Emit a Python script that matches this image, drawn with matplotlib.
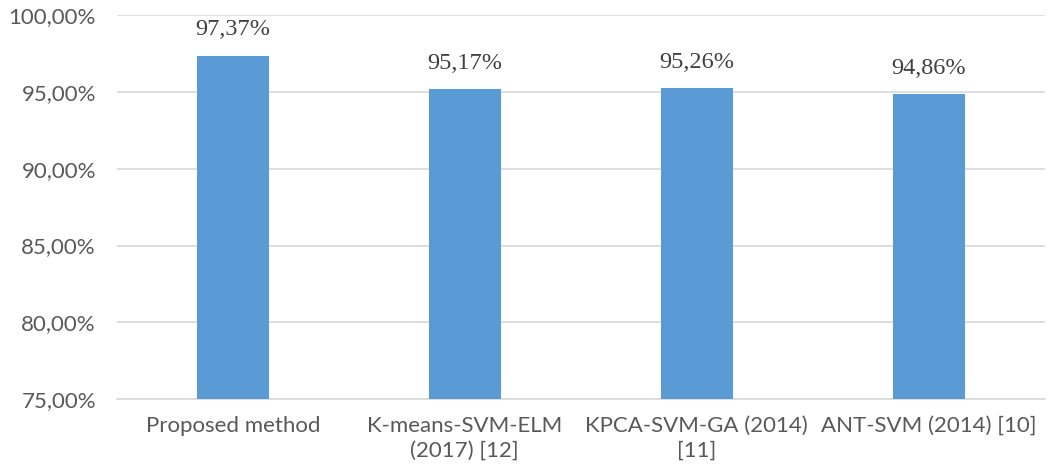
import matplotlib
matplotlib.use("Agg")
import matplotlib.pyplot as plt
from matplotlib.ticker import FuncFormatter

categories = ["Proposed method", "K-means-SVM-ELM\n(2017) [12]", "KPCA-SVM-GA (2014)\n[11]", "ANT-SVM (2014) [10]"]
values = [97.37, 95.17, 95.26, 94.86]
yticks = [75, 80, 85, 90, 95, 100]

fig = plt.figure(figsize=(10.52, 4.74), dpi=100)
ax = fig.add_axes([0.111, 0.158, 0.882, 0.810])

x = list(range(len(categories)))
ax.bar(x, [v - 75 for v in values], bottom=75, width=0.31, color="#5B9BD5", zorder=3)
for xi, v in zip(x, values):
    ax.text(xi, v + 1.0, f"{v:.2f}%".replace(".", ","), ha="center", va="bottom",
            fontsize=17.5, family="Liberation Serif", color="#404040")

ax.set_xlim(-0.5, len(categories) - 0.5)
ax.set_ylim(75, 100)
ax.set_yticks(yticks)
ax.yaxis.set_major_formatter(FuncFormatter(lambda v, p: f"{v:.2f}%".replace(".", ",")))
ax.set_xticks(x)
ax.set_xticklabels(categories, linespacing=1.3)
for lab in ax.get_xticklabels() + ax.get_yticklabels():
    lab.set_fontfamily("Lato")
    lab.set_fontsize(16)
    lab.set_color("#595959")
ax.tick_params(axis="both", length=0)
ax.tick_params(axis="x", pad=12)
ax.tick_params(axis="y", pad=15)
ax.grid(axis="y", color="#D9D9D9", linewidth=1.2, zorder=0)
for s in ["top", "right", "left"]:
    ax.spines[s].set_visible(False)
ax.spines["bottom"].set_color("#D9D9D9")
ax.spines["bottom"].set_linewidth(1.2)

fig.savefig("out.png", dpi=100)
